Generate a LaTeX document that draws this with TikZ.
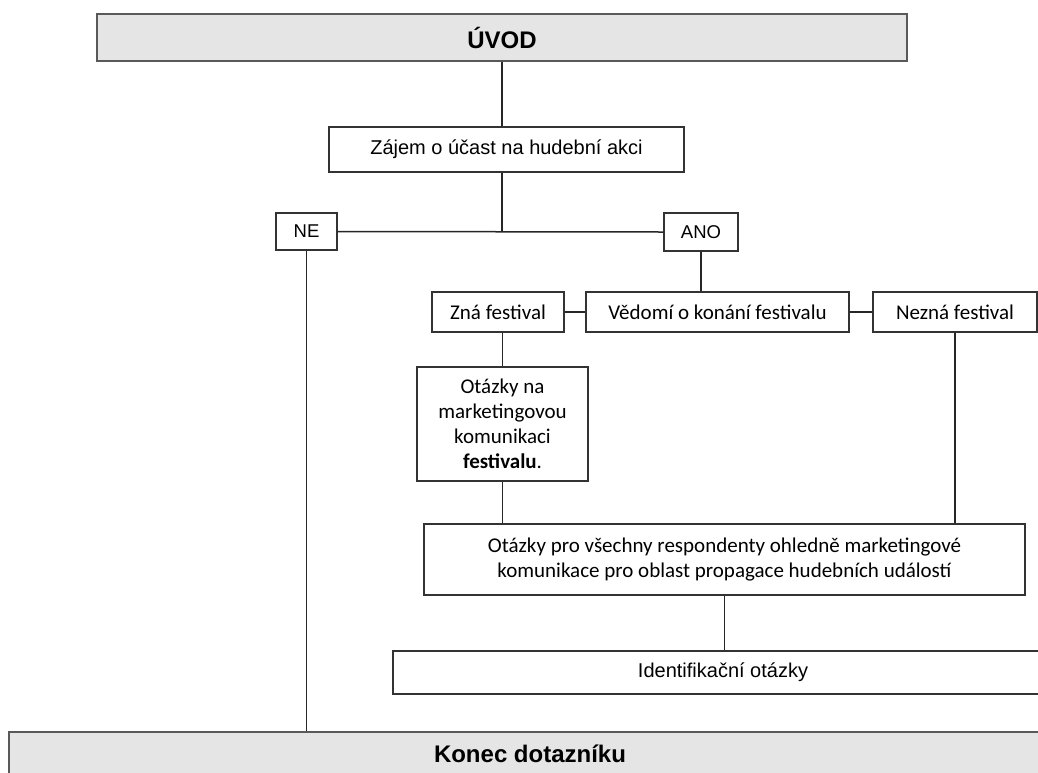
\documentclass[tikz,border=0pt]{standalone}
\usepackage{fontspec}
\setmainfont{Liberation Sans}
\newfontfamily\aptos{Carlito}
\usetikzlibrary{calc}

\begin{document}
\begin{tikzpicture}[x=1pt,y=-1pt,
  titlebox/.style={draw=black!65,fill=black!10,line width=2pt,inner sep=0pt,
    font=\fontsize{24}{28}\selectfont\bfseries},
  qbox/.style={draw=black!80,fill=white,line width=1.4pt,inner sep=0pt,
    font=\fontsize{20}{24}\selectfont},
  fbox/.style={qbox,align=center,font=\aptos\fontsize{21}{25}\selectfont},
  link/.style={draw=black!85,line width=1.5pt}]
  \useasboundingbox (0,0) rectangle (1038,772);
  \clip (0,0) rectangle (1038,772);

  \node[titlebox,minimum width=810pt,minimum height=47pt] (uvod) at (502,37.5) {ÚVOD};
  \node[qbox,minimum width=355pt,minimum height=45pt] (zajem) at (506.5,149.5)
    {Zájem o účast na hudební akci};
  \node[qbox,minimum width=61pt,minimum height=37pt,font=\fontsize{18.5}{22}\selectfont]
    (ne) at (306.5,231.5) {NE};
  \node[qbox,minimum width=74pt,minimum height=38pt,font=\fontsize{18.5}{22}\selectfont]
    (ano) at (701,232) {ANO};
  \node[fbox,minimum width=132pt,minimum height=40pt] (zna) at (498,312) {Zná festival};
  \node[fbox,minimum width=263pt,minimum height=40pt] (vedomi) at (717.5,312)
    {Vědomí o konání festivalu};
  \node[fbox,minimum width=164pt,minimum height=40pt] (nezna) at (955,312) {Nezná festival};
  \node[fbox,minimum width=171pt,minimum height=114pt] (otazky) at (502.5,424)
    {Otázky na\\marketingovou\\komunikaci\\\textbf{festivalu}.};
  \node[fbox,minimum width=601pt,minimum height=71pt] (vsichni) at (724.5,559.5)
    {Otázky pro všechny respondenty ohledně marketingové\\
     komunikace pro oblast propagace hudebních událostí};
  \node[qbox,minimum width=660pt,minimum height=43pt] (ident) at (723,672.5)
    {Identifikační otázky};
  \node[titlebox,minimum width=1042pt,minimum height=44pt] (konec) at (530,754)
    {Konec dotazníku};

  \coordinate (split) at (uvod.south |- ne.east);
  \draw[link] (uvod.south) -- (uvod.south |- zajem.north);
  \draw[link] (split |- zajem.south) -- (split);
  \draw[link] (ne.east) -- (ano.west);
  \draw[link] (ne.south) -- (ne.south |- konec.north);
  \draw[link] (ano.south) -- (ano.south |- vedomi.north);
  \draw[link] (zna.east) -- (vedomi.west);
  \draw[link] (vedomi.east) -- (nezna.west);
  \draw[link] (otazky.north |- zna.south) -- (otazky.north);
  \draw[link] (otazky.south) -- (otazky.south |- vsichni.north);
  \draw[link] (nezna.south) -- (nezna.south |- vsichni.north);
  \draw[link] (vsichni.south) -- (vsichni.south |- ident.north);
\end{tikzpicture}
\end{document}
